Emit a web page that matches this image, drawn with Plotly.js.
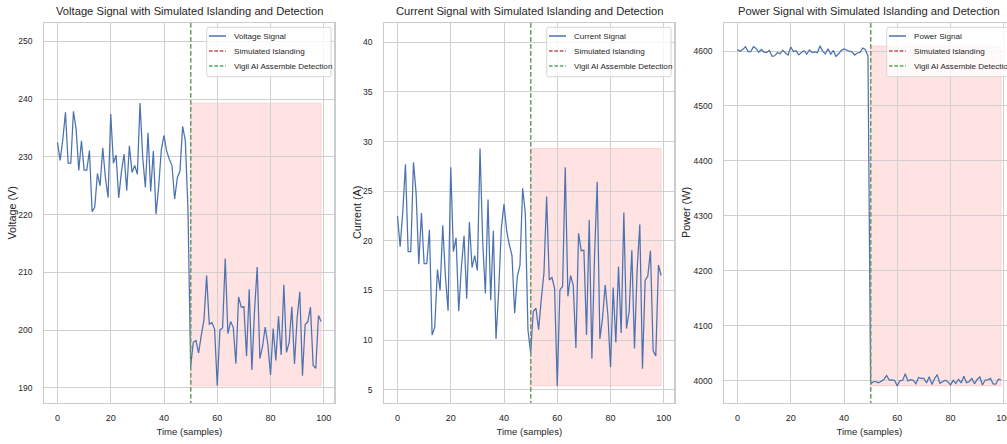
<!DOCTYPE html>
<html><head><meta charset="utf-8">
<script src="https://cdn.plot.ly/plotly-3.0.1.min.js"></script>
<style>html,body{margin:0;padding:0;overflow:hidden;background:#fff;width:1007px;height:444px}#chart{width:1030px;height:444px}</style>
</head><body><div id="chart"></div><script>
// ---------- data ----------
const samples = Array.from({length: 100}, (_, i) => i);
const islandingStart = 50;

const voltage = [232.5, 229.4, 233.0, 237.7, 228.9, 228.9, 237.9, 234.8, 227.65, 232.8,
  227.7, 227.7, 231.1, 220.5, 221.3, 227.1, 225.0, 231.55, 226.4, 222.95,
  237.4, 228.9, 230.3, 222.9, 227.35, 230.5, 224.15, 231.9, 227.3, 228.5,
  227.0, 239.3, 229.9, 224.7, 234.15, 224.0, 231.0, 220.1, 224.9, 231.25,
  233.7, 231.0, 229.6, 228.5, 222.7, 226.4, 227.55, 235.3, 232.8, 221.0,
  193.7, 197.9, 198.2, 196.05, 199.1, 201.75, 209.45, 201.05, 201.3, 200.2,
  190.37, 200.05, 200.4, 212.4, 199.4, 201.5, 200.5, 194.2, 205.75, 204.0,
  204.05, 195.5, 207.1, 193.1, 203.45, 210.95, 195.1, 197.2, 200.55, 197.55,
  192.25, 200.3, 194.75, 202.4, 195.7, 207.85, 196.15, 197.9, 204.05, 194.15,
  202.1, 206.65, 192.1, 201.0, 201.45, 204.0, 193.9, 193.4, 202.55, 201.5];

const current = [22.5, 19.4, 23.0, 27.7, 18.9, 18.9, 27.9, 24.8, 17.65, 22.8,
  17.7, 17.7, 21.1, 10.5, 11.3, 17.1, 15.0, 21.55, 16.4, 12.95,
  27.4, 18.9, 20.3, 12.9, 17.35, 20.5, 14.15, 21.9, 17.3, 18.5,
  17.0, 29.3, 19.9, 14.7, 24.15, 14.0, 21.0, 10.1, 14.9, 21.25,
  23.7, 21.0, 19.6, 18.5, 12.7, 16.4, 17.55, 25.3, 22.8, 11.0,
  8.7, 12.9, 13.2, 11.05, 14.1, 16.75, 24.45, 16.05, 16.3, 15.2,
  5.37, 15.05, 15.4, 27.4, 14.4, 16.5, 15.5, 9.2, 20.75, 19.0,
  19.05, 10.5, 22.1, 8.1, 18.45, 25.95, 10.1, 12.2, 15.55, 12.55,
  7.25, 15.3, 9.75, 17.4, 10.7, 22.85, 11.15, 12.9, 19.05, 9.15,
  17.1, 21.65, 7.1, 16.0, 16.45, 19.0, 8.9, 8.4, 17.55, 16.5];

const power = [4602.5, 4599.4, 4603.0, 4607.7, 4598.9, 4598.9, 4607.9, 4604.8, 4597.65, 4602.8,
  4597.7, 4597.7, 4601.1, 4590.5, 4591.3, 4597.1, 4595.0, 4601.55, 4596.4, 4592.95,
  4607.4, 4598.9, 4600.3, 4592.9, 4597.35, 4600.5, 4594.15, 4601.9, 4597.3, 4598.5,
  4597.0, 4609.3, 4599.9, 4594.7, 4604.15, 4594.0, 4601.0, 4590.1, 4594.9, 4601.25,
  4603.7, 4601.0, 4599.6, 4598.5, 4592.7, 4596.4, 4597.55, 4605.3, 4602.8, 4591.0,
  3993.7, 3997.9, 3998.2, 3996.05, 3999.1, 4001.75, 4009.45, 4001.05, 4001.3, 4000.2,
  3990.37, 4000.05, 4000.4, 4012.4, 3999.4, 4001.5, 4000.5, 3994.2, 4005.75, 4004.0,
  4004.05, 3995.5, 4007.1, 3993.1, 4003.45, 4010.95, 3995.1, 3997.2, 4000.55, 3997.55,
  3992.25, 4000.3, 3994.75, 4002.4, 3995.7, 4007.85, 3996.15, 3997.9, 4004.05, 3994.15,
  4002.1, 4006.65, 3992.1, 4001.0, 4001.45, 4004.0, 3993.9, 3993.4, 4002.55, 4001.5];

const titles = ["Voltage Signal with Simulated Islanding and Detection",
  "Current Signal with Simulated Islanding and Detection",
  "Power Signal with Simulated Islanding and Detection"];
const yLabels = ["Voltage (V)", "Current (A)", "Power (W)"];
const xLabel = "Time (samples)";
const signalNames = ["Voltage Signal", "Current Signal", "Power Signal"];
const islandingLabel = "Simulated Islanding";
const detectionLabel = "Vigil AI Assemble Detection";
const xTicks = [0, 20, 40, 60, 80, 100];
const yTicks = [[190, 200, 210, 220, 230, 240, 250],
  [5, 10, 15, 20, 25, 30, 35, 40],
  [4000, 4100, 4200, 4300, 4400, 4500, 4600]];

// ---------- layout / style ----------
const W = 1030, H = 444, MT = 23, MB = 41;
const PH = H - MT - MB;
const panelLeft = [44.3, 384.3, 724.3];
const yTitleX = [11.5, 357, 686];
const panelW = 290;
const yRanges = [[187.4, 253.17], [3.65, 41.95], [3959.2, 4651]];
const FONT = "'Liberation Sans', Arial, sans-serif";
const TXT = '#262626';
const BLUE = '#4C72B0', RED = '#C44E52', GREEN = '#55A868';
const px2x = p => p / W;
const py2y = p => (H - MB - p) / PH;

const series = [voltage, current, power];
const traces = [];
const shapes = [];
const annotations = [];
const layout = {
  width: W, height: H,
  margin: {l: 0, r: 0, t: MT, b: MB},
  paper_bgcolor: '#fff', plot_bgcolor: '#fff',
  showlegend: false,
  font: {family: FONT, color: TXT}
};

series.forEach((ys, k) => {
  const sfx = k === 0 ? '' : String(k + 1);
  const xa = 'x' + sfx, ya = 'y' + sfx;
  const L = panelLeft[k];
  traces.push({x: samples, y: ys, type: 'scatter', mode: 'lines', xaxis: xa, yaxis: ya,
    line: {color: BLUE, width: 1.25}, name: signalNames[k], hoverinfo: 'x+y'});

  layout['xaxis' + sfx] = {
    domain: [px2x(L), px2x(L + panelW)], anchor: ya, range: [-4.95, 103.95],
    tickvals: xTicks, ticks: '', showgrid: true, gridcolor: '#d0d0d0', gridwidth: 1,
    showline: true, linecolor: '#cccccc', linewidth: 1.2, mirror: true, zeroline: false,
    tickfont: {family: FONT, size: 9, color: TXT}, ticklabelstandoff: 6,
    title: {text: xLabel, font: {family: FONT, size: 9.6, color: TXT}, standoff: 6}
  };
  layout['yaxis' + sfx] = {
    domain: [0, 1], anchor: xa, range: yRanges[k],
    tickvals: yTicks[k], ticks: '', showgrid: true, gridcolor: '#d0d0d0', gridwidth: 1,
    showline: true, linecolor: '#cccccc', linewidth: 1.2, mirror: true, zeroline: false,
    tickfont: {family: FONT, size: 8.5, color: TXT}, ticklabelstandoff: 9
  };

  // y-axis title
  annotations.push({xref: 'paper', yref: 'paper', x: px2x(yTitleX[k]), y: 0.5, xanchor: 'center', yanchor: 'middle',
    textangle: -90, showarrow: false, text: yLabels[k], font: {family: FONT, size: 10.8, color: TXT}});

  // islanding shaded region (from data min/max)
  const lo = Math.min(...ys), hi = Math.max(...ys);
  shapes.push({type: 'rect', xref: xa, yref: ya, x0: islandingStart, x1: samples[samples.length - 1],
    y0: lo, y1: hi, fillcolor: 'rgba(255,0,0,0.11)', line: {color: 'rgba(255,0,0,0.12)', width: 1}, layer: 'below'});
  // islanding + detection vertical lines
  shapes.push({type: 'line', xref: xa, yref: ya + ' domain', x0: islandingStart, x1: islandingStart, y0: 1, y1: 0,
    line: {color: RED, width: 1.3, dash: '4.6px,2.4px'}});
  shapes.push({type: 'line', xref: xa, yref: ya + ' domain', x0: islandingStart, x1: islandingStart, y0: 1, y1: 0,
    line: {color: GREEN, width: 1.3, dash: '4.6px,2.4px'}});

  // subplot title
  annotations.push({xref: 'paper', yref: 'paper', x: px2x(L + panelW / 2), y: py2y(11),
    xanchor: 'center', yanchor: 'middle', showarrow: false, text: titles[k],
    font: {family: FONT, size: 11.2, color: TXT}});

  // legend box (manual)
  const bx0 = L + 162.4, bx1 = L + 286.7, by0 = 27.3, by1 = 76.7, r = 2;
  const X = px2x, Y = py2y;
  const path = `M ${X(bx0 + r)},${Y(by0)} L ${X(bx1 - r)},${Y(by0)} Q ${X(bx1)},${Y(by0)} ${X(bx1)},${Y(by0 + r)} ` +
    `L ${X(bx1)},${Y(by1 - r)} Q ${X(bx1)},${Y(by1)} ${X(bx1 - r)},${Y(by1)} L ${X(bx0 + r)},${Y(by1)} ` +
    `Q ${X(bx0)},${Y(by1)} ${X(bx0)},${Y(by1 - r)} L ${X(bx0)},${Y(by0 + r)} Q ${X(bx0)},${Y(by0)} ${X(bx0 + r)},${Y(by0)} Z`;
  shapes.push({type: 'path', xref: 'paper', yref: 'paper', path: path,
    fillcolor: 'rgba(255,255,255,0.8)', line: {color: '#d6d6d6', width: 1}, layer: 'above'});
  const rows = [[signalNames[k], BLUE, 'solid', 36], [islandingLabel, RED, '3.6px,1.8px', 51], [detectionLabel, GREEN, '3.6px,1.8px', 66]];
  rows.forEach(([label, col, dash, ry]) => {
    shapes.push({type: 'line', xref: 'paper', yref: 'paper', x0: X(L + 164.7), x1: X(L + 181.7), y0: Y(ry), y1: Y(ry),
      line: {color: col, width: 1.5, dash: dash}, layer: 'above'});
    annotations.push({xref: 'paper', yref: 'paper', x: X(L + 187.4), y: Y(ry), xanchor: 'left', yanchor: 'middle',
      showarrow: false, text: label, font: {family: FONT, size: 8.1, color: TXT}});
  });
});

layout.shapes = shapes;
layout.annotations = annotations;
Plotly.newPlot('chart', traces, layout, {displayModeBar: false, staticPlot: true});
</script></body></html>
